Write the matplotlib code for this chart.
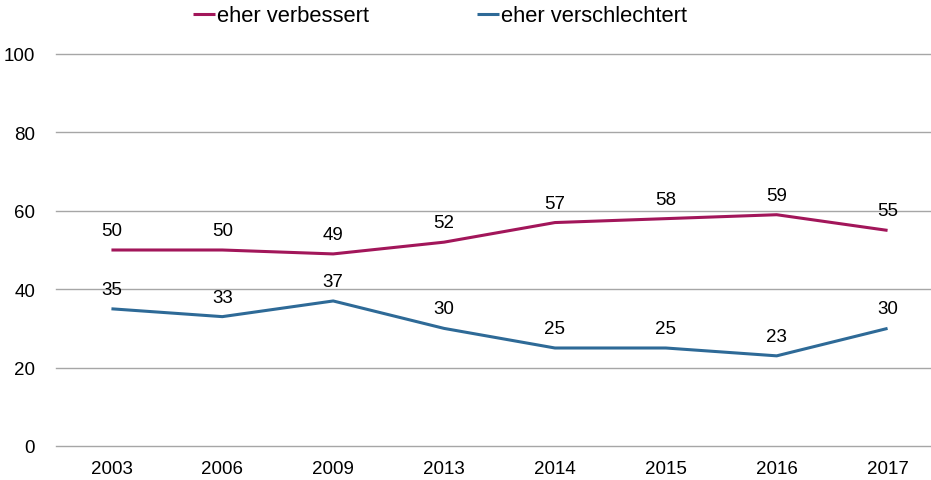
import matplotlib
matplotlib.use("Agg")
import matplotlib.pyplot as plt

years = ["2003", "2006", "2009", "2013", "2014", "2015", "2016", "2017"]
verbessert = [50, 50, 49, 52, 57, 58, 59, 55]
verschlechtert = [35, 33, 37, 30, 25, 25, 23, 30]
yticks = [0, 20, 40, 60, 80, 100]

plt.rcParams['font.family'] = ['Liberation Sans', 'DejaVu Sans']
fs = 13.5

fig = plt.figure(figsize=(9.31, 4.81), dpi=100)
ax = fig.add_axes([56/931, 1-447/481, 887/931, 392/481])

c1 = "#A2165A"
c2 = "#2E6A97"
x = list(range(len(years)))
l1, = ax.plot(x, verbessert, color=c1, lw=2.2, label="eher verbessert", solid_capstyle='butt')
l2, = ax.plot(x, verschlechtert, color=c2, lw=2.2, label="eher verschlechtert", solid_capstyle='butt')

for xi, v in zip(x, verbessert):
    ax.annotate(str(v), (xi, v), xytext=(0, 14), textcoords="offset points",
                ha="center", va="center", fontsize=fs, color="#000000")
for xi, v in zip(x, verschlechtert):
    ax.annotate(str(v), (xi, v), xytext=(0, 14), textcoords="offset points",
                ha="center", va="center", fontsize=fs, color="#000000")

ax.set_xlim(-0.5, len(years) - 0.5)
ax.set_ylim(0, 100)
ax.set_yticks(yticks)
ax.set_xticks(x)
ax.set_xticklabels(years)
ax.tick_params(length=0, labelsize=fs, colors="#000000")
ax.tick_params(axis='y', pad=15)
ax.tick_params(axis='x', pad=10)
for s in ax.spines.values():
    s.set_visible(False)
ax.yaxis.grid(True, color="#A6A6A6", lw=1.0)
for gl in ax.yaxis.get_gridlines():
    gl.set_clip_on(False)
ax.set_axisbelow(True)

fig.legend(handles=[l1, l2], loc="center left", bbox_to_anchor=(193/931, 1-17/481),
           ncol=2, frameon=False, fontsize=15.8, handlelength=1.0, handletextpad=0.1,
           columnspacing=4.9, borderpad=0, borderaxespad=0)

fig.savefig("out.png", dpi=100)
